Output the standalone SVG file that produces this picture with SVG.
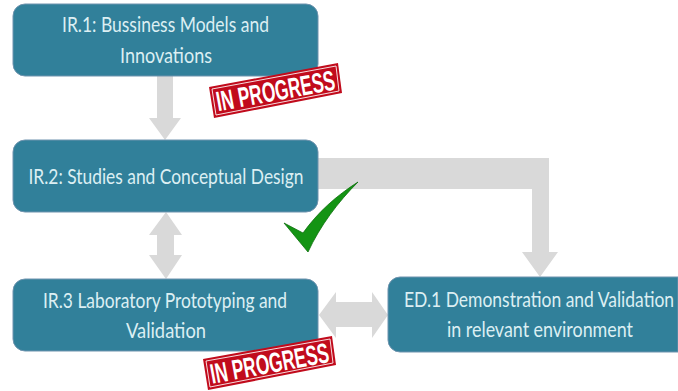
<svg xmlns="http://www.w3.org/2000/svg" width="678" height="391" viewBox="0 0 678 391">
<style>
.box{fill:#31809a;stroke:#6f93ae;stroke-width:1}
.lbl{font-family:"Lato","Liberation Sans",sans-serif;font-size:21px;fill:#dceff3;text-anchor:middle}
.arr{fill:#d9d9d9}
.st{fill:#c10b1c}
.in{fill:none;stroke:#fff;stroke-width:1;opacity:.85}
.stt{font-family:"Liberation Sans",sans-serif;font-weight:bold;font-size:28px;fill:#fff;text-anchor:middle}
</style>
<rect width="678" height="391" fill="#fff"/>
<g id="connectors">
<path class="arr" d="M157 76H173V118H181L165 140L149 118H157Z"/>
<path class="arr" d="M318 158H549V252H558L540 277L522 252H532V189H318Z"/>
<path class="arr" d="M166 212L182 235H174V255H182L166 279L149 255H157V235H149Z"/>
<path class="arr" d="M319 315L336 292V302H372V292L388 315L372 338V327H336V338Z"/>
</g>
<g id="ir1"><rect class="box" x="13" y="4" width="305" height="72" rx="12"/>
<text class="lbl" x="165.500" y="32" textLength="207" lengthAdjust="spacingAndGlyphs">IR.1: Bussiness Models and</text>
<text class="lbl" x="166" y="63" textLength="92" lengthAdjust="spacingAndGlyphs">Innovations</text></g>
<g id="ir2"><rect class="box" x="13" y="140" width="305" height="72" rx="12"/>
<text class="lbl" x="166" y="184" textLength="275" lengthAdjust="spacingAndGlyphs">IR.2: Studies and Conceptual Design</text></g>
<g id="ir3"><rect class="box" x="13" y="279" width="305" height="72" rx="12"/>
<text class="lbl" x="165" y="308" textLength="244" lengthAdjust="spacingAndGlyphs">IR.3 Laboratory Prototyping and</text>
<text class="lbl" x="166" y="338" textLength="80" lengthAdjust="spacingAndGlyphs">Validation</text></g>
<g id="ed1"><path class="box" d="M678 277H400A12 12 0 0 0 388 289V340A12 12 0 0 0 400 352H678Z"/>
<text class="lbl" transform="translate(539 307) scale(1 1.2)" style="font-size:17.500px" x="0" y="0">ED.1 Demonstration and Validation</text>
<text class="lbl" x="540" y="337" textLength="186" lengthAdjust="spacingAndGlyphs">in relevant environment</text></g>
<g id="stamp1"><path class="st" d="M209 87L338 63L342 93L214 118Z"/>
<path class="in" d="M212 89L336 66L339 91L216 115Z"/>
<text class="stt" x="275.500" y="100.500" transform="rotate(-10.500 275.500 90.500)" textLength="120" lengthAdjust="spacingAndGlyphs">IN PROGRESS</text></g>
<g id="stamp2"><path class="st" d="M203 359L332 336L336 365L208 390Z"/>
<path class="in" d="M206 361L330 339L333 363L210 387Z"/>
<text class="stt" x="269.500" y="373" transform="rotate(-10.500 269.500 363)" textLength="120" lengthAdjust="spacingAndGlyphs">IN PROGRESS</text></g>
<g id="check"><path d="M358 182C336 196 318 212 303 233L284 223L308 252C320 226 338 202 358 182Z" fill="#149414" stroke="#0d6e0d" stroke-width="0.8"/></g>
</svg>
